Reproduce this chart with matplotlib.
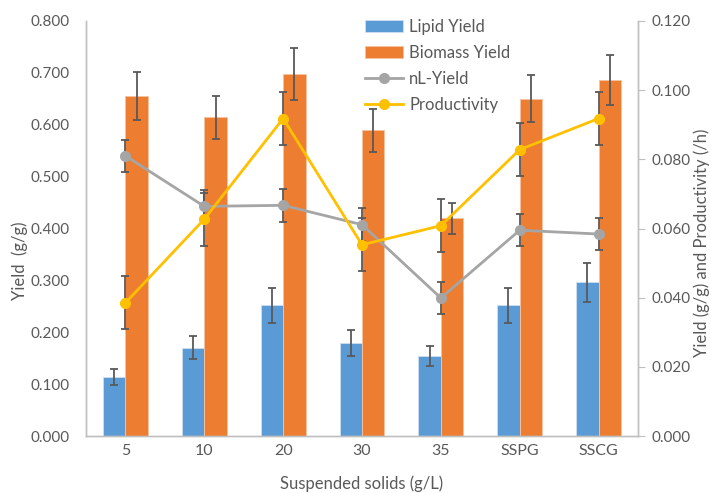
import matplotlib
matplotlib.use("Agg")
import matplotlib.pyplot as plt
import numpy as np

plt.rcParams['font.family'] = ['Lato', 'DejaVu Sans']

categories = ["5", "10", "20", "30", "35", "SSPG", "SSCG"]
lipid_yield = [0.114, 0.170, 0.252, 0.179, 0.154, 0.252, 0.296]
lipid_err = [0.015, 0.022, 0.034, 0.025, 0.020, 0.034, 0.038]
biomass_yield = [0.655, 0.614, 0.698, 0.589, 0.420, 0.650, 0.686]
biomass_err = [0.046, 0.042, 0.050, 0.041, 0.030, 0.045, 0.048]
nl_yield = [0.0810, 0.0664, 0.0667, 0.0611, 0.0399, 0.0595, 0.0584]
nl_err = [0.0046, 0.0046, 0.0047, 0.0047, 0.0047, 0.0046, 0.0047]
productivity = [0.0385, 0.0627, 0.0918, 0.0553, 0.0608, 0.0828, 0.0918]
prod_err = [0.0077, 0.0077, 0.0077, 0.0077, 0.0077, 0.0077, 0.0077]

blue = "#5B9BD5"
orange = "#ED7D31"
gray = "#A5A5A5"
yellow = "#FFC000"
txt = "#595959"
spine_c = "#BFBFBF"
errc = "#595959"

fig = plt.figure(figsize=(7.11, 4.93), dpi=100)
ax = fig.add_axes([86/711, 1-436/493, (638-86)/711, (436-21)/493])
ax2 = ax.twinx()

x = np.arange(len(categories))
w = 0.285
ekw = dict(ecolor=errc, elinewidth=1.3, capsize=3, capthick=1.3)
b1 = ax.bar(x - w/2, lipid_yield, w, color=blue, edgecolor="#cfe0f1", linewidth=0.6,
            yerr=lipid_err, error_kw=ekw, label="Lipid Yield")
b2 = ax.bar(x + w/2, biomass_yield, w, color=orange, edgecolor="#f6c3a3", linewidth=0.6,
            yerr=biomass_err, error_kw=ekw, label="Biomass Yield")

l1 = ax2.errorbar(x, nl_yield, yerr=nl_err, color=gray, lw=2.0, marker='o', ms=7,
                  ecolor=errc, elinewidth=1.3, capsize=3, capthick=1.3, label="nL-Yield")
l2 = ax2.errorbar(x, productivity, yerr=prod_err, color=yellow, lw=2.0, marker='o', ms=7,
                  ecolor=errc, elinewidth=1.3, capsize=3, capthick=1.3, label="Productivity")

ax.set_xlim(-0.5, len(categories) - 0.5)
ax.set_ylim(0, 0.8)
ax2.set_ylim(0, 0.12)
ax.set_yticks(np.arange(0, 0.81, 0.1))
ax.set_yticklabels([f"{v:.3f}" for v in np.arange(0, 0.81, 0.1)])
ax2.set_yticks(np.arange(0, 0.121, 0.02))
ax2.set_yticklabels([f"{v:.3f}" for v in np.arange(0, 0.121, 0.02)])
ax.set_xticks(x)
ax.set_xticklabels(categories)

for a in (ax, ax2):
    a.spines['top'].set_visible(False)
    for s in ('left', 'right', 'bottom'):
        a.spines[s].set_color(spine_c)
        a.spines[s].set_linewidth(1.0)
ax.tick_params(axis='y', length=0, labelsize=11, labelcolor=txt, pad=12)
ax.tick_params(axis='x', length=0, labelsize=11.5, labelcolor=txt, pad=6)
ax2.tick_params(axis='y', length=5, color=spine_c, labelsize=11, labelcolor=txt, pad=5)

ax.set_ylabel("Yield  (g/g)", fontsize=12, color=txt, va='center')
ax.yaxis.set_label_coords((20 - 86)/552, (436-261)/415)
ax2.set_ylabel("Yield (g/g) and Productivity (/h)", fontsize=12, color=txt, va='center')
ax2.yaxis.set_label_coords((702-86)/552, (436-243)/415)
ax.set_xlabel("Suspended solids (g/L)", fontsize=12, color=txt, labelpad=12)

handles = [b1, b2, l1[0], l2[0]]
labels = ["Lipid Yield", "Biomass Yield", "nL-Yield", "Productivity"]
leg = fig.legend(handles, labels, loc='upper left', bbox_to_anchor=(350/711, 1-4/493),
                 frameon=False, fontsize=12, labelcolor=txt, handlelength=2.3,
                 handletextpad=0.35, labelspacing=0.6)

fig.savefig("out.png", dpi=100)
